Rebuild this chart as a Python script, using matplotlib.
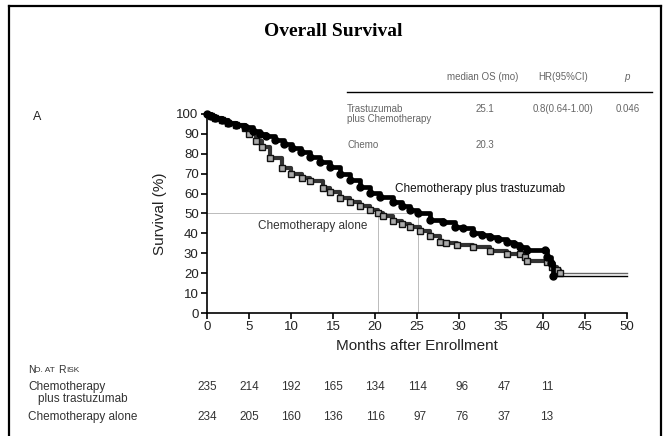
import matplotlib
matplotlib.use("Agg")
import matplotlib.pyplot as plt
from matplotlib.lines import Line2D

# survival curves (months, %)
her_t = [0, 0.5, 1, 1.8, 2.5, 3.5, 4.5, 5.5, 6.3, 7, 8.1, 9.2, 10.1, 11.2, 12.3, 13.5, 14.6,
         15.8, 17.0, 18.2, 19.4, 20.6, 22.1, 23.2, 24.2, 25.1, 26.5, 28.1, 29.5, 30.5,
         31.7, 32.7, 33.7, 34.7, 35.7, 36.5, 37.3, 38.1, 40.2, 40.5, 41.0, 41.2, 50]
her_s = [100, 99, 98, 97, 95.5, 94.5, 93.5, 91.5, 90, 89, 87, 85, 83, 81, 78.5, 76, 73.5,
         70, 67, 63.5, 60.5, 58.5, 56, 54, 52, 50, 46.5, 45.7, 43, 42.5,
         40.2, 39, 38.2, 37, 35.7, 34.5, 33.2, 31.7, 31.7, 28.1, 25, 18.5, 18.5]

chemo_t = [0, 0.5, 1, 1.8, 2.5, 3.5, 4.5, 5.0, 5.8, 6.5, 7.5, 8.9, 10, 11.3, 12.3, 13.8,
           14.6, 15.8, 17.0, 18.2, 19.4, 20.3, 21.0, 22.1, 23.2, 24.2, 25.3, 26.5, 27.7,
           28.5, 29.8, 31.7, 33.7, 35.7, 37.3, 37.9, 38.1, 40.5, 41.1, 41.7, 42.0, 50]
chemo_s = [100, 99, 98, 97, 95.5, 94.5, 93, 90, 86.5, 83.5, 78, 73, 70, 68, 66.5, 63,
           61, 58, 56, 54, 52, 50, 48.5, 46, 44.5, 43, 41, 38.5, 35.5,
           35, 34, 33, 31, 29.5, 29.5, 28, 26, 25.5, 23, 21.5, 20, 20]

median_her = 25.1
median_chemo = 20.3

risk_times = [0, 5, 10, 15, 20, 25, 30, 35, 40]
risk_her = [235, 214, 192, 165, 134, 114, 96, 47, 11]
risk_chemo = [234, 205, 160, 136, 116, 97, 76, 37, 13]

plt.rcParams['font.family'] = ['Liberation Sans', 'DejaVu Sans']

fig = plt.figure(figsize=(6.67, 4.36), dpi=100)
ax = fig.add_axes([207/667, 1-313/436, 420/667, 199/436])

grey = '#bbbbbb'
ax.plot([0, median_her], [50, 50], color=grey, lw=0.7)
ax.plot([median_chemo, median_chemo], [0, 50], color=grey, lw=0.7)
ax.plot([median_her, median_her], [0, 50], color=grey, lw=0.7)

# thin step line for the whole curve, thick band up to last event
ax.step(chemo_t, chemo_s, where='post', color='#666666', lw=1.0, clip_on=False)
ax.step(chemo_t[:-1], chemo_s[:-1], where='post', color='#333333', lw=3.0,
        solid_joinstyle='round', clip_on=False)
ax.plot(chemo_t[1:-1], chemo_s[1:-1], ls='none', marker='s', ms=4.5, mfc='#aaaaaa',
        mec='#111111', mew=1.0, clip_on=False)
ax.step(her_t, her_s, where='post', color='black', lw=1.0, clip_on=False)
ax.step(her_t[:-1], her_s[:-1], where='post', color='black', lw=3.4,
        solid_joinstyle='round', clip_on=False)
ax.plot(her_t[:-1], her_s[:-1], ls='none', marker='o', ms=5, color='black', clip_on=False)

ax.set_xlim(0, 50)
ax.set_ylim(0, 100)
ax.set_xticks(range(0, 51, 5))
ax.set_yticks(range(0, 101, 10))
for s in ['top', 'right']:
    ax.spines[s].set_visible(False)
for s in ['left', 'bottom']:
    ax.spines[s].set_linewidth(1.2)
ax.tick_params(direction='out', length=4, width=1.2, labelsize=9.5, labelcolor='#222222', pad=2)
ax.set_xlabel('Months after Enrollment', fontsize=11, color='#222222', labelpad=4)
ax.set_ylabel('Survival (%)', fontsize=11, color='#222222', labelpad=7)

ax.text(6.1, 43.5, 'Chemotherapy alone', fontsize=8.5, color='#333333', va='center')
ax.text(22.4, 62.5, 'Chemotherapy plus trastuzumab', fontsize=8.5, color='#111111', va='center')

# title and frame
fig.text(333/667, 1-31/436, 'Overall Survival', fontsize=14, fontweight='bold',
         family='Liberation Serif', ha='center', va='center')
fig.add_artist(Line2D([9/667, 661/667], [1-6/436, 1-6/436], color='black', lw=1.6))
fig.add_artist(Line2D([9/667, 9/667], [1-6/436, -0.01], color='black', lw=1.6))
fig.add_artist(Line2D([661/667, 661/667], [1-6/436, -0.01], color='black', lw=1.6))

# summary table
tc = '#666666'
def fx(px):
    return px/667
def fy(py):
    return 1 - py/436
fig.text(fx(483), fy(77), 'median OS (mo)', fontsize=7, color=tc, ha='center', va='center')
fig.text(fx(563), fy(77), 'HR(95%CI)', fontsize=7, color=tc, ha='center', va='center')
fig.text(fx(627), fy(77), 'p', fontsize=7, color=tc, ha='center', va='center', style='italic')
fig.add_artist(Line2D([fx(347), fx(652)], [fy(92), fy(92)], color='black', lw=1.0))
fig.text(fx(347), fy(104), 'Trastuzumab\nplus Chemotherapy', fontsize=7, color=tc,
         ha='left', va='top', linespacing=1.0)
fig.text(fx(485), fy(104), '25.1', fontsize=7, color=tc, ha='center', va='top')
fig.text(fx(563), fy(104), '0.8(0.64-1.00)', fontsize=7, color=tc, ha='center', va='top')
fig.text(fx(628), fy(104), '0.046', fontsize=7, color=tc, ha='center', va='top')
fig.text(fx(347), fy(145), 'Chemo', fontsize=7, color=tc, ha='left', va='center')
fig.text(fx(485), fy(145), '20.3', fontsize=7, color=tc, ha='center', va='center')

fig.text(fx(33), fy(117), 'A', fontsize=9, color='#222222', ha='left', va='center')

# number at risk (small caps built from two sizes)
rc = '#333333'
fig.text(fx(28), fy(370), 'N', fontsize=7.5, color=rc, ha='left', va='center')
fig.text(fx(34.5), fy(370.6), 'O. AT', fontsize=6, color=rc, ha='left', va='center')
fig.text(fx(58), fy(370), 'R', fontsize=7.5, color=rc, ha='left', va='center')
fig.text(fx(66.5), fy(370.6), 'ISK', fontsize=6, color=rc, ha='left', va='center')
fig.text(fx(28), fy(387), 'Chemotherapy', fontsize=8.5, color=rc, ha='left', va='center')
fig.text(fx(38), fy(399), 'plus trastuzumab', fontsize=8.5, color=rc, ha='left', va='center')
fig.text(fx(28), fy(417), 'Chemotherapy alone', fontsize=8.5, color=rc, ha='left', va='center')
for t, a, b in zip(risk_times, risk_her, risk_chemo):
    xr = fx(207 + 8.4*t + 10)
    fig.text(xr, fy(387), str(a), fontsize=8.5, color=rc, ha='right', va='center')
    fig.text(xr, fy(417), str(b), fontsize=8.5, color=rc, ha='right', va='center')

fig.savefig('out.png', dpi=100)
